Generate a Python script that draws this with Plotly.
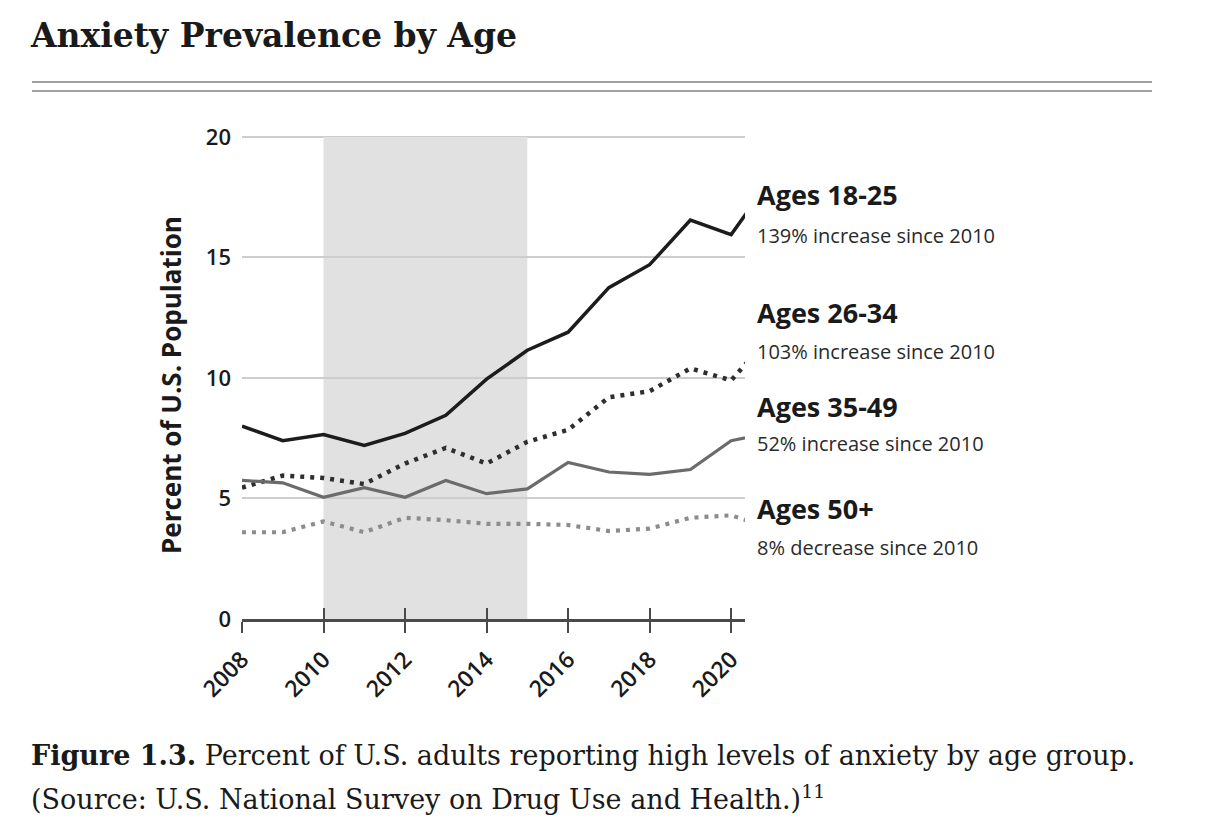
import plotly.graph_objects as go

years = [2008, 2009, 2010, 2011, 2012, 2013, 2014, 2015, 2016, 2017, 2018, 2019, 2020, 2021]
ages_18_25 = [8.0, 7.4, 7.65, 7.2, 7.7, 8.45, 9.95, 11.15, 11.9, 13.75, 14.7, 16.55, 15.95, 18.3]
ages_26_34 = [5.45, 5.95, 5.85, 5.6, 6.45, 7.1, 6.45, 7.35, 7.85, 9.2, 9.45, 10.4, 9.9, 11.8]
ages_35_49 = [5.75, 5.65, 5.05, 5.45, 5.05, 5.75, 5.2, 5.4, 6.5, 6.1, 6.0, 6.2, 7.4, 7.75]
ages_50_plus = [3.6, 3.6, 4.05, 3.6, 4.2, 4.1, 3.95, 3.95, 3.9, 3.65, 3.75, 4.2, 4.3, 3.75]

series_names = ["Ages 18-25", "Ages 26-34", "Ages 35-49", "Ages 50+"]
series_notes = ["139% increase since 2010", "103% increase since 2010",
                "52% increase since 2010", "8% decrease since 2010"]
shaded_period = [2010, 2015]
x_ticks = [2008, 2010, 2012, 2014, 2016, 2018, 2020]
y_ticks = [0, 5, 10, 15, 20]

title_text = "Anxiety Prevalence by Age"
caption_line1 = "<b>Figure 1.3.</b> Percent of U.S. adults reporting high levels of anxiety by age group."
caption_line2 = "(Source: U.S. National Survey on Drug Use and Health.)<sup>11</sup>"
y_title = "Percent of U.S. Population"

# page body has an 8px margin, so the figure is drawn 8px smaller and coordinates shifted
OFF = 8
W, H = 1224 - OFF, 832 - OFF
L, R, T, B = 242 - OFF, 745 - OFF, 136 - OFF, 619 - OFF  # plot area edges (figure px)


def px(xp):
    """page x pixel -> paper x"""
    return (xp - OFF - L) / (R - L)


def py(yp):
    """page y pixel -> paper y"""
    return (B - (yp - OFF)) / (B - T)


styles = [
    dict(color="#1c1c1c", width=3.5, dash="solid"),
    dict(color="#2e2e2e", width=4.5, dash="4px,6px"),
    dict(color="#6b6b6b", width=3.2, dash="solid"),
    dict(color="#8c8c8c", width=4.2, dash="4px,6px"),
]

fig = go.Figure()
for name, vals, st in zip(series_names, [ages_18_25, ages_26_34, ages_35_49, ages_50_plus], styles):
    fig.add_trace(go.Scatter(x=years, y=vals, mode="lines", name=name,
                             line=dict(color=st["color"], width=st["width"], dash=st["dash"])))

# invisible trace on second x axis that carries the inside half of the ticks
fig.add_trace(go.Scatter(x=[years[0]], y=[0], xaxis="x2", mode="markers",
                         marker=dict(opacity=0), showlegend=False, hoverinfo="skip"))

fig.add_shape(type="rect", xref="x", yref="y", x0=shaded_period[0], x1=shaded_period[1],
              y0=0, y1=y_ticks[-1], fillcolor="#e1e1e1", line=dict(width=0), layer="below")
# top gridline (plotly omits the gridline at the very edge of the range)
fig.add_shape(type="line", xref="paper", yref="y", x0=0, x1=1,
              y0=y_ticks[-1], y1=y_ticks[-1], line=dict(color="#cdcdcd", width=2), layer="below")

# rules under title
for yy in (82, 91):
    fig.add_shape(type="line", xref="paper", yref="paper", x0=px(32), x1=px(1152),
                  y0=py(yy), y1=py(yy), line=dict(color="#a0a0a0", width=2.2))

xrange = [2008, 2020.34]
fig.update_layout(
    width=W, height=H,
    margin=dict(l=L, r=W - R, t=T, b=H - B),
    paper_bgcolor="white", plot_bgcolor="white",
    showlegend=False,
    title=dict(text="<b>" + title_text + "</b>", xref="container", yref="container",
               x=(31 - OFF) / W, xanchor="left", y=1 - (35 - OFF) / H, yanchor="middle",
               font=dict(family="DejaVu Serif", size=33, color="#1a1a1a")),
    xaxis=dict(range=xrange, tickvals=x_ticks, ticktext=[str(v) for v in x_ticks],
               tickangle=-45, ticks="outside", ticklen=11, tickwidth=2, tickcolor="#4a4a4a",
               showline=True, linecolor="#4a4a4a", linewidth=3, showgrid=False, zeroline=False,
               tickfont=dict(family="Open Sans", size=23, color="#1a1a1a", weight=600),
               ticklabelstandoff=4),
    xaxis2=dict(range=xrange, overlaying="x", matches="x", tickvals=x_ticks,
                ticks="inside", ticklen=11, tickwidth=2, tickcolor="#4a4a4a",
                showticklabels=False, showline=False, showgrid=False, zeroline=False,
                side="bottom"),
    yaxis=dict(range=[0, 20.04], tickvals=y_ticks, ticks="", showline=False,
               showgrid=True, gridcolor="#cdcdcd", gridwidth=2, zeroline=False,
               tickfont=dict(family="Open Sans", size=22, color="#1a1a1a", weight=600),
               ticklabelstandoff=10),
)

# y-axis title
fig.add_annotation(text="<b>" + y_title + "</b>", xref="paper", yref="paper",
                   x=px(171), y=py(385), textangle=-90, showarrow=False,
                   xanchor="center", yanchor="middle",
                   font=dict(family="Open Sans", size=26, color="#1a1a1a"))

label_y = [194, 312, 406, 508]
note_y = [235, 351, 443, 547]
for name, note, ly, ny in zip(series_names, series_notes, label_y, note_y):
    fig.add_annotation(text="<b>" + name + "</b>", xref="paper", yref="paper",
                       x=px(755), y=py(ly), xanchor="left", yanchor="middle", showarrow=False,
                       font=dict(family="Open Sans", size=27, color="#1a1a1a"))
    fig.add_annotation(text=note, xref="paper", yref="paper",
                       x=px(755), y=py(ny), xanchor="left", yanchor="middle", showarrow=False,
                       font=dict(family="Open Sans", size=20, color="#2a2a2a"))

fig.add_annotation(text=caption_line1, xref="paper", yref="paper", x=px(29), y=py(755),
                   xanchor="left", yanchor="middle", showarrow=False,
                   font=dict(family="DejaVu Serif", size=27, color="#1a1a1a"))
fig.add_annotation(text=caption_line2, xref="paper", yref="paper", x=px(29), y=py(797),
                   xanchor="left", yanchor="middle", showarrow=False,
                   font=dict(family="DejaVu Serif", size=27, color="#1a1a1a"))

fig.write_html("out.html")
